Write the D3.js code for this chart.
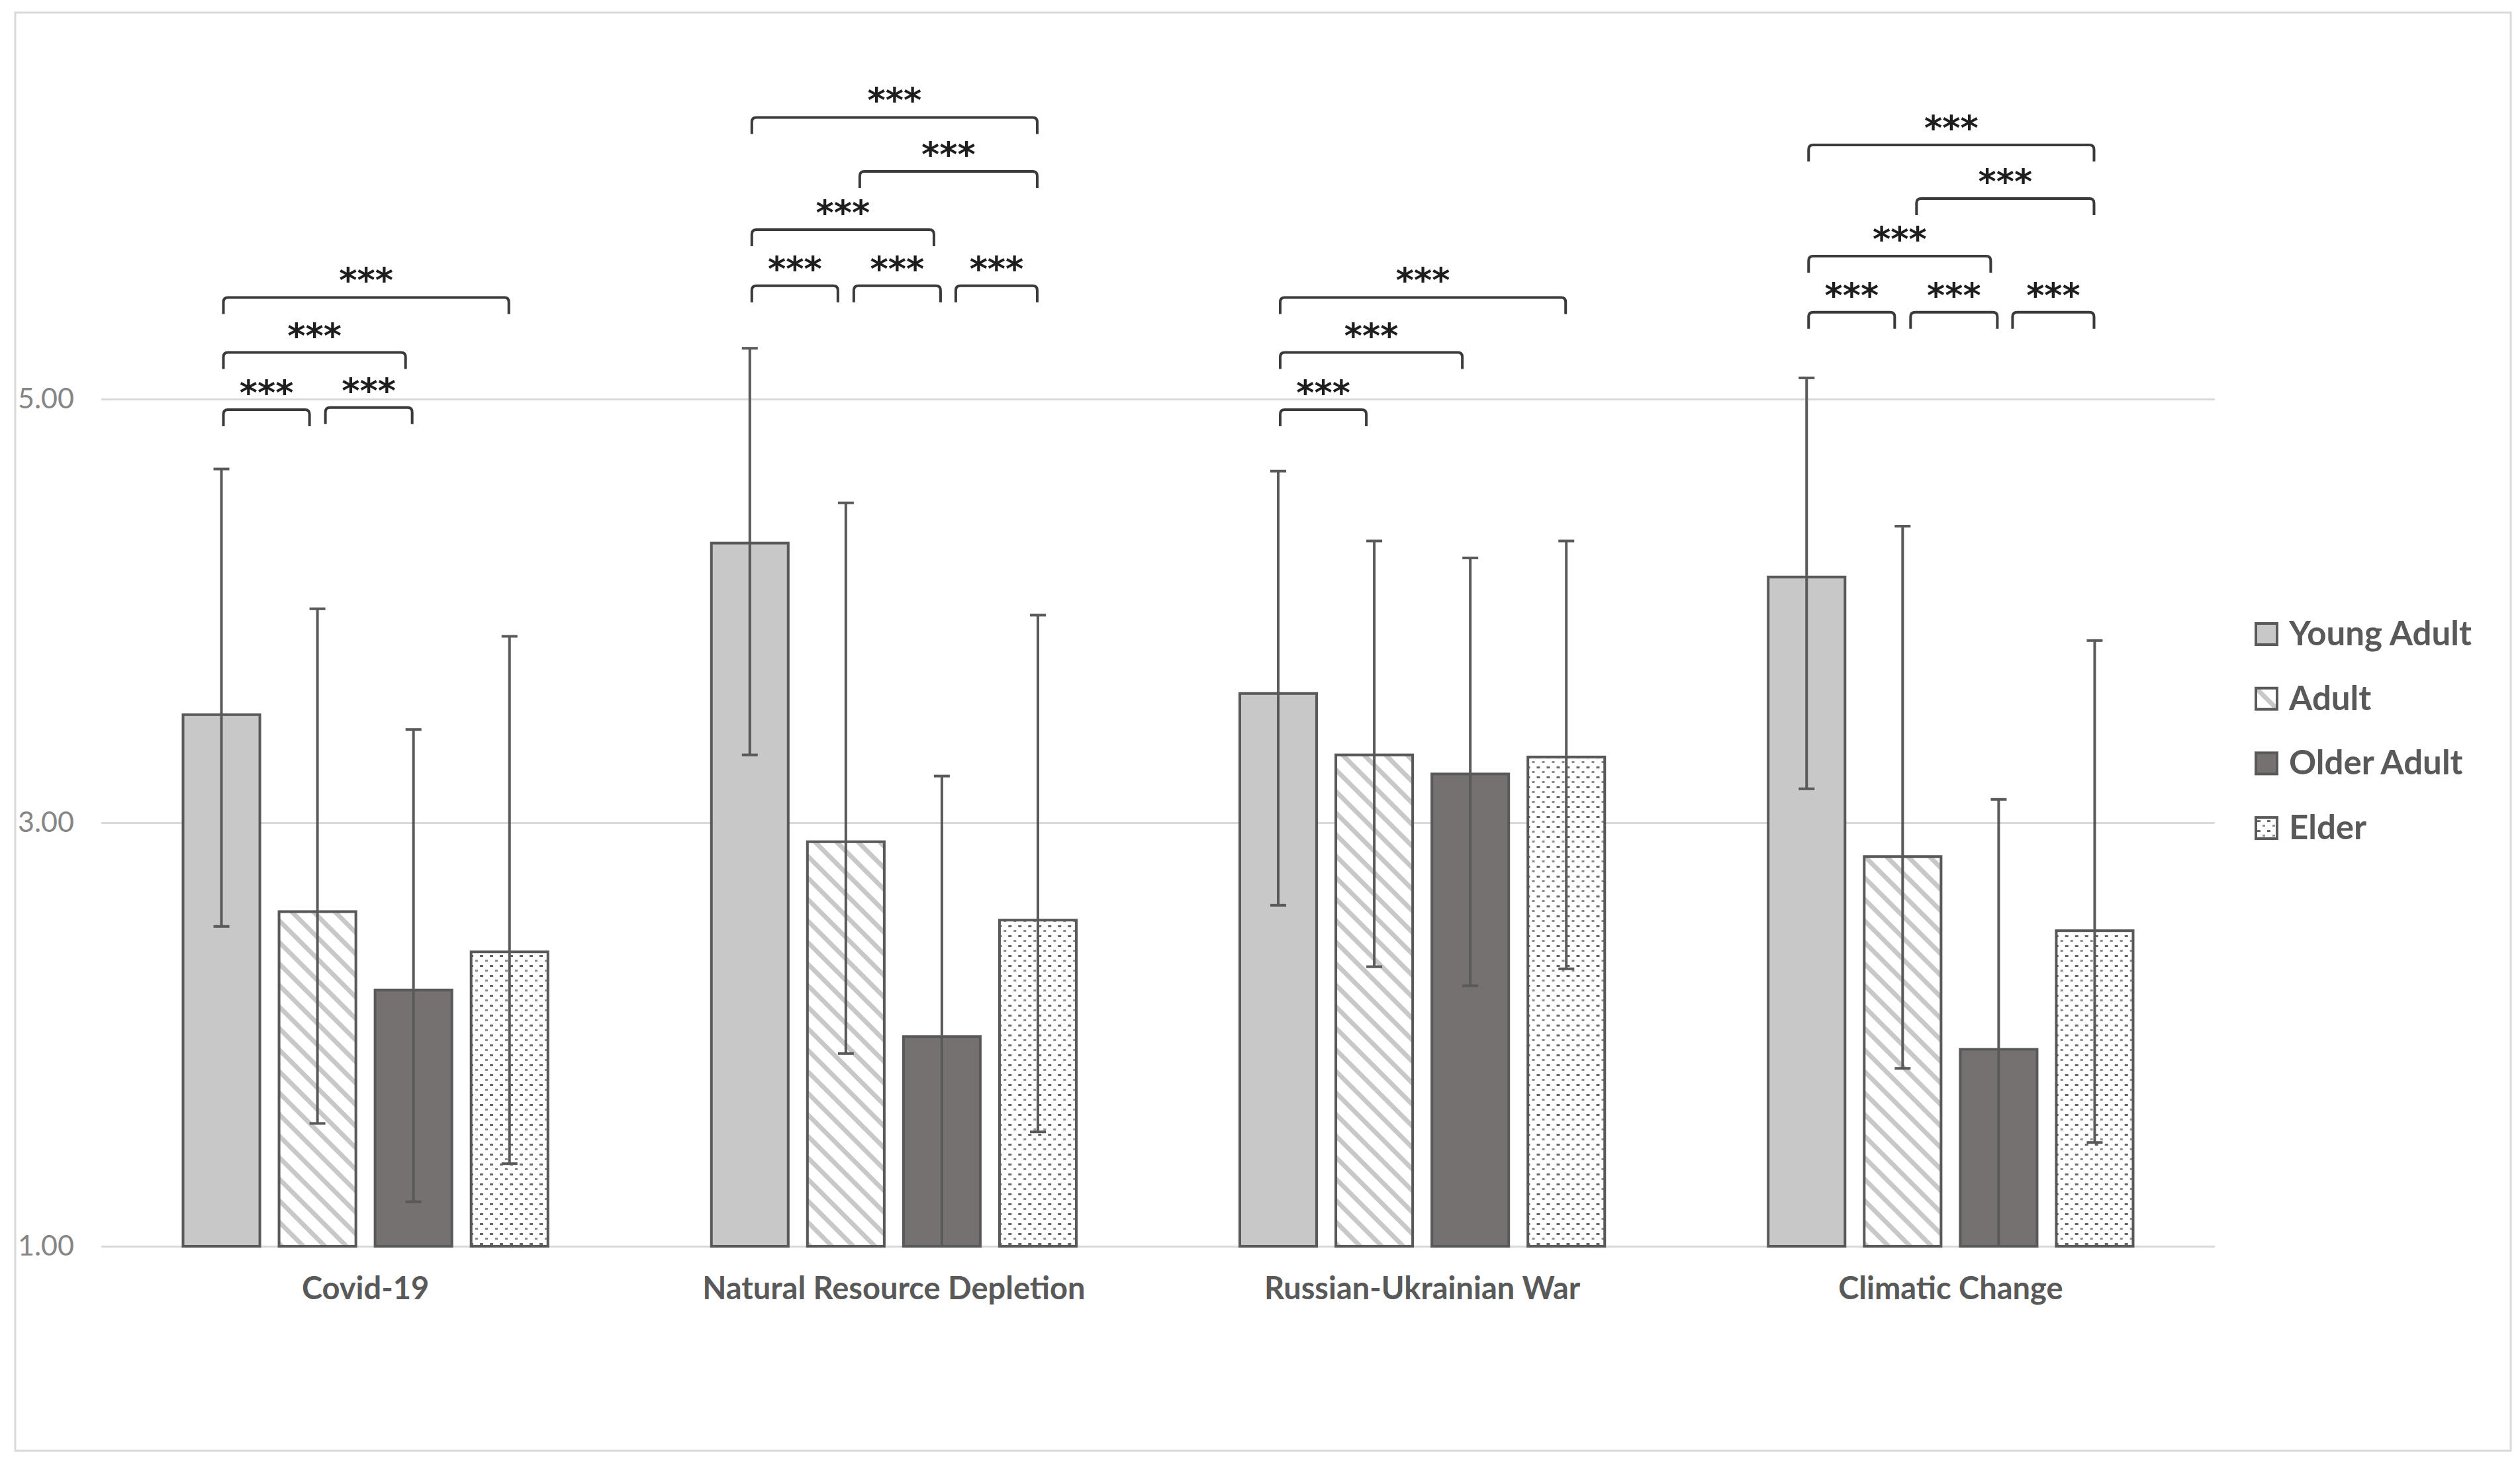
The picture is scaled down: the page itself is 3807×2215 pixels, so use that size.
<!DOCTYPE html>
<html>
<head>
<meta charset="utf-8">
<script src="https://cdn.jsdelivr.net/npm/d3@7"></script>
<style>
  html, body { margin: 0; padding: 0; background: #ffffff; }
  svg { display: block; }
</style>
</head>
<body>
<div id="chart"></div>
<script>
// Chart data
const categories = ['Covid-19', 'Natural Resource Depletion', 'Russian-Ukrainian War', 'Climatic Change'];
const seriesNames = ['Young Adult', 'Adult', 'Older Adult', 'Elder'];

// mean per category, one array per age group
const youngAdult = [3.51, 4.32, 3.61, 4.16];
const adult = [2.58, 2.91, 3.32, 2.84];
const olderAdult = [2.21, 1.99, 3.23, 1.93];
const elder = [2.39, 2.54, 3.31, 2.49];

// error bars (plus / minus)
const youngAdultErrUp = [1.16, 0.92, 1.05, 0.94];
const adultErrUp = [1.43, 1.60, 1.01, 1.56];
const olderAdultErrUp = [1.23, 1.23, 1.02, 1.18];
const elderErrUp = [1.49, 1.44, 1.02, 1.37];
const errDown = [1.00, 1.00, 1.00, 1.00];

const yTicks = [1, 3, 5];

// significance brackets: [category, from series, to series, level]
const brackets = [
    [0, 0, 1, 4.95], [0, 1, 2, 4.96], [0, 0, 2, 5.22], [0, 0, 3, 5.48],
    [1, 0, 1, 5.535], [1, 1, 2, 5.535], [1, 2, 3, 5.535], [1, 0, 2, 5.80], [1, 1, 3, 6.075], [1, 0, 3, 6.33],
    [2, 0, 1, 4.95], [2, 0, 2, 5.22], [2, 0, 3, 5.48],
    [3, 0, 1, 5.41], [3, 1, 2, 5.41], [3, 2, 3, 5.41], [3, 0, 2, 5.675], [3, 1, 3, 5.947], [3, 0, 3, 6.20]
];
const sigLabel = '***';

const means = [youngAdult, adult, olderAdult, elder];
const errUps = [youngAdultErrUp, adultErrUp, olderAdultErrUp, elderErrUp];

const W = 3807, H = 2215;
const plot = { left: 153, right: 3346, top: 123, bottom: 1883 };

const svg = d3.select('#chart').append('svg')
    .attr('width', W)
    .attr('height', H);

// patterns for the bar fills
const defs = svg.append('defs');
defs.append('pattern')
    .attr('id', 'stripes')
    .attr('patternUnits', 'userSpaceOnUse')
    .attr('width', 23).attr('height', 23)
    .attr('patternTransform', 'rotate(45)')
    .call(p => {
        p.append('rect').attr('width', 23).attr('height', 23).attr('fill', '#ffffff');
        p.append('rect').attr('y', 8).attr('width', 23).attr('height', 7).attr('fill', '#c8c8c8');
    });
defs.append('pattern')
    .attr('id', 'dots')
    .attr('patternUnits', 'userSpaceOnUse')
    .attr('width', 15).attr('height', 15)
    .call(p => {
        p.append('rect').attr('width', 15).attr('height', 15).attr('fill', '#ffffff');
        p.append('rect').attr('x', 2).attr('y', 3).attr('width', 5).attr('height', 3).attr('fill', '#666666');
        p.append('rect').attr('x', 10).attr('y', 10).attr('width', 4).attr('height', 3).attr('fill', '#8c8c8c');
    });
defs.append('clipPath')
    .attr('id', 'plotClip')
    .append('rect')
    .attr('x', 0).attr('y', 0)
    .attr('width', W).attr('height', plot.bottom);

const fills = ['#c8c8c8', 'url(#stripes)', '#767171', 'url(#dots)'];
const dark = '#595959';

// chart border
svg.append('rect')
    .attr('x', 23).attr('y', 19)
    .attr('width', 3770).attr('height', 2173)
    .attr('fill', 'none')
    .attr('stroke', '#d9d9d9')
    .attr('stroke-width', 3);

// scales
const x0 = d3.scaleBand()
    .domain(categories)
    .range([plot.left, plot.right])
    .padding(0);

const x1 = d3.scaleBand()
    .domain(d3.range(seriesNames.length))
    .range([123.5, x0.bandwidth() - 123.5])
    .paddingInner(0.2)
    .paddingOuter(0);

const y = d3.scaleLinear()
    .domain([1, 6.5])
    .range([plot.bottom, plot.top]);

// gridlines and y labels
const yAxis = d3.axisLeft(y)
    .tickValues(yTicks)
    .tickFormat(d3.format('.2f'))
    .tickSize(-(plot.right - plot.left))
    .tickPadding(41);

svg.append('g')
    .attr('transform', `translate(${plot.left},0)`)
    .call(yAxis)
    .call(g => g.select('.domain').remove())
    .call(g => g.selectAll('.tick line').attr('stroke', '#d9d9d9').attr('stroke-width', 3))
    .call(g => g.selectAll('.tick text')
        .attr('fill', '#858585')
        .attr('font-family', 'Lato, sans-serif')
        .attr('font-size', 43));

// bars
const groups = svg.append('g')
    .selectAll('g')
    .data(categories)
    .join('g')
    .attr('transform', d => `translate(${x0(d)},0)`);

groups.selectAll('rect')
    .data((c, ci) => seriesNames.map((s, si) => ({ si, ci, v: means[si][ci] })))
    .join('rect')
    .attr('x', d => x1(d.si))
    .attr('y', d => y(d.v))
    .attr('width', x1.bandwidth())
    .attr('height', d => y(1) - y(d.v))
    .attr('fill', d => fills[d.si])
    .attr('stroke', dark)
    .attr('stroke-width', 4);

// error bars
const errG = svg.append('g').attr('clip-path', 'url(#plotClip)');
categories.forEach((c, ci) => {
    seriesNames.forEach((s, si) => {
        const cx = x0(c) + x1(si) + x1.bandwidth() / 2;
        const hi = y(means[si][ci] + errUps[si][ci]);
        const lo = y(means[si][ci] - errDown[ci]);
        const g = errG.append('g').attr('stroke', dark).attr('stroke-width', 4);
        g.append('line').attr('x1', cx).attr('x2', cx).attr('y1', hi).attr('y2', lo);
        g.append('line').attr('x1', cx - 12).attr('x2', cx + 12).attr('y1', hi).attr('y2', hi);
        g.append('line').attr('x1', cx - 12).attr('x2', cx + 12).attr('y1', lo).attr('y2', lo);
    });
});

// significance brackets
const barCenter = (ci, si) => x0(categories[ci]) + x1(si) + x1.bandwidth() / 2;
const leg = 25, r = 7;
const brG = svg.append('g');
brackets.forEach(([ci, from, to, level]) => {
    const adjacent = to - from === 1;
    // brackets were placed by hand: they stop short where a neighbour starts
    const leftInset = from === 0 ? 3 : (adjacent && from === 1 ? 12 : 21);
    const rightInset = to === seriesNames.length - 1 ? 1 : (adjacent && to === 2 ? 2 : 12);
    const xa = barCenter(ci, from) + leftInset;
    const xb = barCenter(ci, to) - rightInset;
    const top = y(level);
    brG.append('path')
        .attr('d', `M${xa},${top + leg} L${xa},${top + r} Q${xa},${top} ${xa + r},${top} ` +
            `L${xb - r},${top} Q${xb},${top} ${xb},${top + r} L${xb},${top + leg}`)
        .attr('fill', 'none')
        .attr('stroke', '#3a3a3a')
        .attr('stroke-width', 4);
    brG.append('text')
        .attr('x', (xa + xb) / 2)
        .attr('y', top - 8)
        .attr('text-anchor', 'middle')
        .attr('font-family', 'DejaVu Sans, sans-serif')
        .attr('font-weight', 'bold')
        .attr('font-size', 52)
        .attr('fill', '#1e1e1e')
        .text(sigLabel);
});

// category labels
svg.append('g')
    .selectAll('text')
    .data(categories)
    .join('text')
    .attr('x', d => x0(d) + x0.bandwidth() / 2)
    .attr('y', 1963)
    .attr('text-anchor', 'middle')
    .attr('font-family', 'Lato, sans-serif')
    .attr('font-weight', 'bold')
    .attr('font-size', 47)
    .attr('fill', dark)
    .text(d => d);

// legend
const legend = svg.append('g')
    .selectAll('g')
    .data(seriesNames)
    .join('g')
    .attr('transform', (d, i) => `translate(3408,${958 + i * 97.7})`);

legend.append('rect')
    .attr('x', 0).attr('y', -16)
    .attr('width', 32).attr('height', 32)
    .attr('fill', (d, i) => fills[i])
    .attr('stroke', dark)
    .attr('stroke-width', 4);

legend.append('text')
    .attr('x', 50)
    .attr('y', 17)
    .attr('font-family', 'Lato, sans-serif')
    .attr('font-weight', 'bold')
    .attr('font-size', 51)
    .attr('fill', dark)
    .text(d => d);
</script>
</body>
</html>
